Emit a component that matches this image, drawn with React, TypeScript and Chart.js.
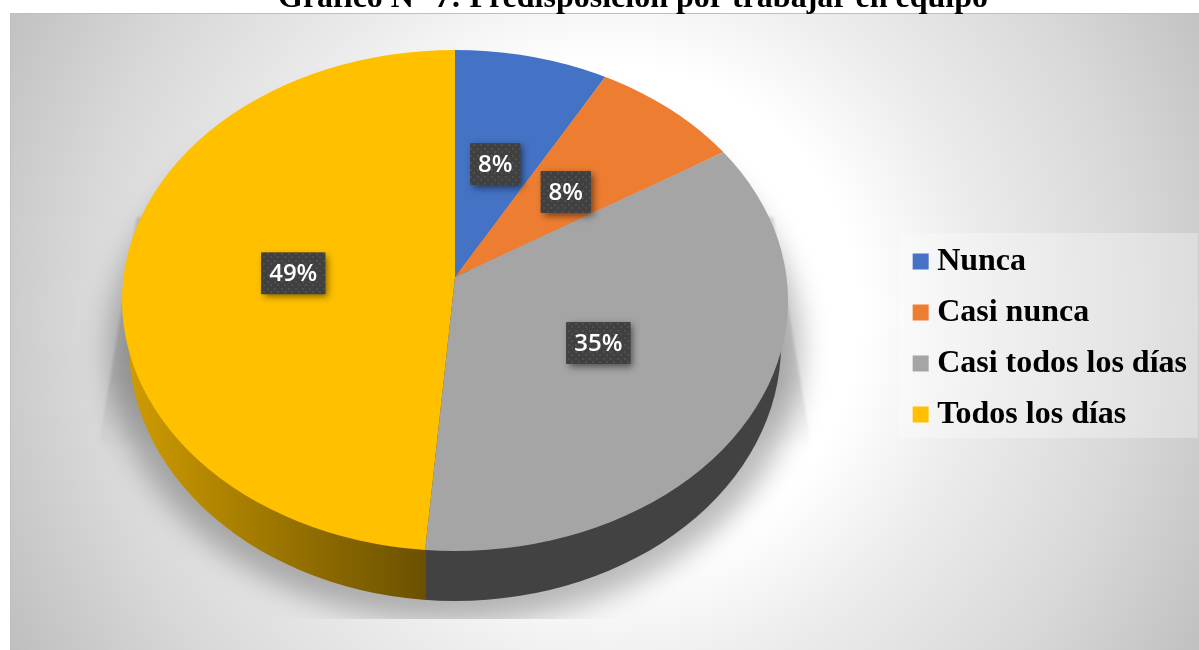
import React, { useEffect, useRef } from "react";
import { Chart, registerables } from "chart.js";

Chart.register(...registerables);

const titleText = "Gráfico N° 7: Predisposición por trabajar en equipo";
const categories = ["Nunca", "Casi nunca", "Casi todos los días", "Todos los días"];
const percentValues = [8, 8, 35, 49];
const sliceColors = ["#4472C4", "#ED7D31", "#A5A5A5", "#FFC000"];

// projected geometry of the tilted disc
const APEX = { x: 455, y: 277 };
const FACE = { x: 455, y: 300.5, rx: 333, ry: 250.5 };
const BASE = { x: 455, y: 345, rx: 326, ry: 256 };
const SX = 522, SY_UP = 382, SY_DOWN = 300, SY_LABEL_DOWN = 425, LABEL_TX = 0.31, LABEL_TX_DOWN = 0.319, LABEL_TY = 0.305;

function ellipsePath(ctx: CanvasRenderingContext2D, e: { x: number; y: number; rx: number; ry: number }) {
  ctx.beginPath();
  ctx.ellipse(e.x, e.y, e.rx, e.ry, 0, 0, Math.PI * 2);
}

function seamX(theta: number) {
  const dx = SX * Math.cos(theta), dy = SY_DOWN * Math.sin(theta);
  const ox = APEX.x - FACE.x, oy = APEX.y - FACE.y;
  const a = (dx * dx) / (FACE.rx * FACE.rx) + (dy * dy) / (FACE.ry * FACE.ry);
  const b = 2 * ((ox * dx) / (FACE.rx * FACE.rx) + (oy * dy) / (FACE.ry * FACE.ry));
  const c = (ox * ox) / (FACE.rx * FACE.rx) + (oy * oy) / (FACE.ry * FACE.ry) - 1;
  const t = (-b + Math.sqrt(b * b - 4 * a * c)) / (2 * a);
  return APEX.x + t * dx;
}

const panelPlugin = {
  id: "panel",
  beforeDraw(chart: any) {
    const ctx: CanvasRenderingContext2D = chart.ctx;
    ctx.save();
    ctx.fillStyle = "#fff";
    ctx.fillRect(0, 0, chart.width, chart.height);
    const g = ctx.createRadialGradient(610, 315, 0, 610, 315, 684);
    g.addColorStop(0, "#ffffff");
    g.addColorStop(250 / 684, "#ffffff");
    g.addColorStop(368 / 684, "#ececec");
    g.addColorStop(528 / 684, "#d8d8d8");
    g.addColorStop(1, "#bfbfbf");
    ctx.fillStyle = g;
    ctx.fillRect(10, 13, chart.width - 10, chart.height - 13);
    ctx.fillStyle = "#bfbfbf";
    ctx.fillRect(10, 13, chart.width - 10, 1);
    ctx.fillRect(10, 13, 1, chart.height - 13);
    // legend plate
    ctx.fillStyle = "rgba(255,255,255,0.3)";
    ctx.fillRect(899, 233, 299, 205);
    ctx.restore();
  },
};

const discPlugin = {
  id: "disc",
  beforeDatasetDraw(chart: any) {
    const ctx: CanvasRenderingContext2D = chart.ctx;
    const arcs = chart.getDatasetMeta(0).data;
    const R = arcs[0].outerRadius;

    // cast shadow
    ctx.save();
    ctx.beginPath();
    ctx.rect(0, 0, chart.width, 619);
    ctx.clip();
    const fade = ctx.createLinearGradient(0, 217, 0, 450);
    fade.addColorStop(0, "rgba(0,0,0,0.12)");
    fade.addColorStop(0.7, "rgba(0,0,0,0.1)");
    fade.addColorStop(1, "rgba(0,0,0,0)");
    ctx.filter = "blur(1px)";
    ctx.fillStyle = fade;
    ctx.beginPath();
    ctx.moveTo(137, 217);
    ctx.lineTo(98, 450);
    ctx.lineTo(812, 450);
    ctx.lineTo(773, 217);
    ctx.closePath();
    ctx.fill();
    ctx.filter = "blur(14px)";
    ctx.fillStyle = "rgba(0,0,0,0.27)";
    ellipsePath(ctx, { x: 455, y: 350, rx: 346, ry: 272 });
    ctx.fill();
    ctx.restore();

    // side wall
    const sx = seamX(arcs[2].endAngle);
    ctx.save();
    ellipsePath(ctx, BASE);
    ctx.clip();
    ctx.fillStyle = "#424242";
    ctx.fillRect(sx, 270, BASE.rx * 2, 340);
    const g = ctx.createLinearGradient(125, 0, sx, 0);
    g.addColorStop(0, "#d09c00");
    g.addColorStop(0.5, "#9c7600");
    g.addColorStop(1, "#6b5000");
    ctx.fillStyle = g;
    ctx.fillRect(0, 270, sx, 340);
    ctx.restore();

    // top face: the library's arcs, stretched per half and clipped to the face outline
    ctx.save();
    ellipsePath(ctx, FACE);
    ctx.clip();
    [
      { y: 0, h: APEX.y, sy: SY_UP },
      { y: APEX.y, h: chart.height - APEX.y, sy: SY_DOWN },
    ].forEach((half) => {
      ctx.save();
      ctx.beginPath();
      ctx.rect(0, half.y, chart.width, half.h);
      ctx.clip();
      ctx.translate(APEX.x, APEX.y);
      ctx.scale(SX / R, half.sy / R);
      ctx.translate(-arcs[0].x, -arcs[0].y);
      arcs.forEach((a: any) => a.draw(ctx));
      ctx.restore();
    });
    ctx.restore();
    return false;
  },
  afterDatasetsDraw(chart: any) {
    const ctx: CanvasRenderingContext2D = chart.ctx;
    const arcs = chart.getDatasetMeta(0).data;
    const tile = document.createElement("canvas");
    tile.width = 7;
    tile.height = 7;
    const t = tile.getContext("2d")!;
    t.fillStyle = "#404040";
    t.fillRect(0, 0, 7, 7);
    t.fillStyle = "#4f4f4f";
    t.fillRect(1, 1, 2, 2);
    t.fillRect(4, 4, 2, 2);
    const pattern = ctx.createPattern(tile, "repeat")!;
    ctx.save();
    ctx.font = '600 24px "Open Sans"';
    ctx.textAlign = "center";
    ctx.textBaseline = "middle";
    arcs.forEach((a: any, i: number) => {
      const mid = (a.startAngle + a.endAngle) / 2;
      const s = Math.sin(mid);
      const x = APEX.x + (s < 0 ? LABEL_TX : LABEL_TX_DOWN) * SX * Math.cos(mid);
      const y = APEX.y + LABEL_TY * (s < 0 ? SY_UP : SY_LABEL_DOWN) * s;
      const label = percentValues[i] + "%";
      const w = percentValues[i] < 10 ? 50 : 64;
      const h = 41.5;
      ctx.save();
      ctx.shadowColor = "rgba(0,0,0,0.5)";
      ctx.shadowBlur = 7;
      ctx.shadowOffsetX = 3;
      ctx.shadowOffsetY = 3;
      ctx.fillStyle = "#404040";
      ctx.fillRect(x - w / 2, y - h / 2, w, h);
      ctx.restore();
      ctx.fillStyle = pattern;
      ctx.fillRect(x - w / 2, y - h / 2, w, h);
      ctx.fillStyle = "#fff";
      ctx.fillText(label, x, y + 1);
    });
    ctx.restore();
  },
};

export default function App() {
  const ref = useRef<HTMLCanvasElement>(null);
  useEffect(() => {
    const chart = new Chart(ref.current!, {
      type: "pie",
      data: {
        labels: categories,
        datasets: [{ data: percentValues, backgroundColor: sliceColors, borderWidth: 0 }],
      },
      options: {
        animation: false,
        responsive: false,
        layout: { padding: { left: 69, right: 2, top: -20, bottom: -46 } },
        plugins: {
          tooltip: { enabled: false },
          title: {
            display: true,
            text: titleText,
            color: "#000",
            padding: 0,
            font: { family: '"Liberation Serif"', size: 32, weight: "bold" },
          },
          legend: {
            position: "right",
            labels: {
              color: "#000",
              padding: 19,
              boxWidth: 1,
              boxHeight: 1,
              font: { family: '"Liberation Serif"', size: 32, weight: "bold" },
              generateLabels: () =>
                categories.map((text, i) => ({
                  text,
                  index: i,
                  fillStyle: sliceColors[i],
                  strokeStyle: sliceColors[i],
                  lineWidth: 15,
                  fontColor: "#000",
                })),
            },
          },
        },
      },
      plugins: [panelPlugin, discPlugin],
    } as any);
    return () => chart.destroy();
  }, []);
  return (
    <div style={{ position: "fixed", left: 0, top: 0, width: 1199, height: 650, overflow: "hidden", background: "#fff" }}>
      <canvas ref={ref} width={1199} height={650} style={{ display: "block" }} />
    </div>
  );
}
